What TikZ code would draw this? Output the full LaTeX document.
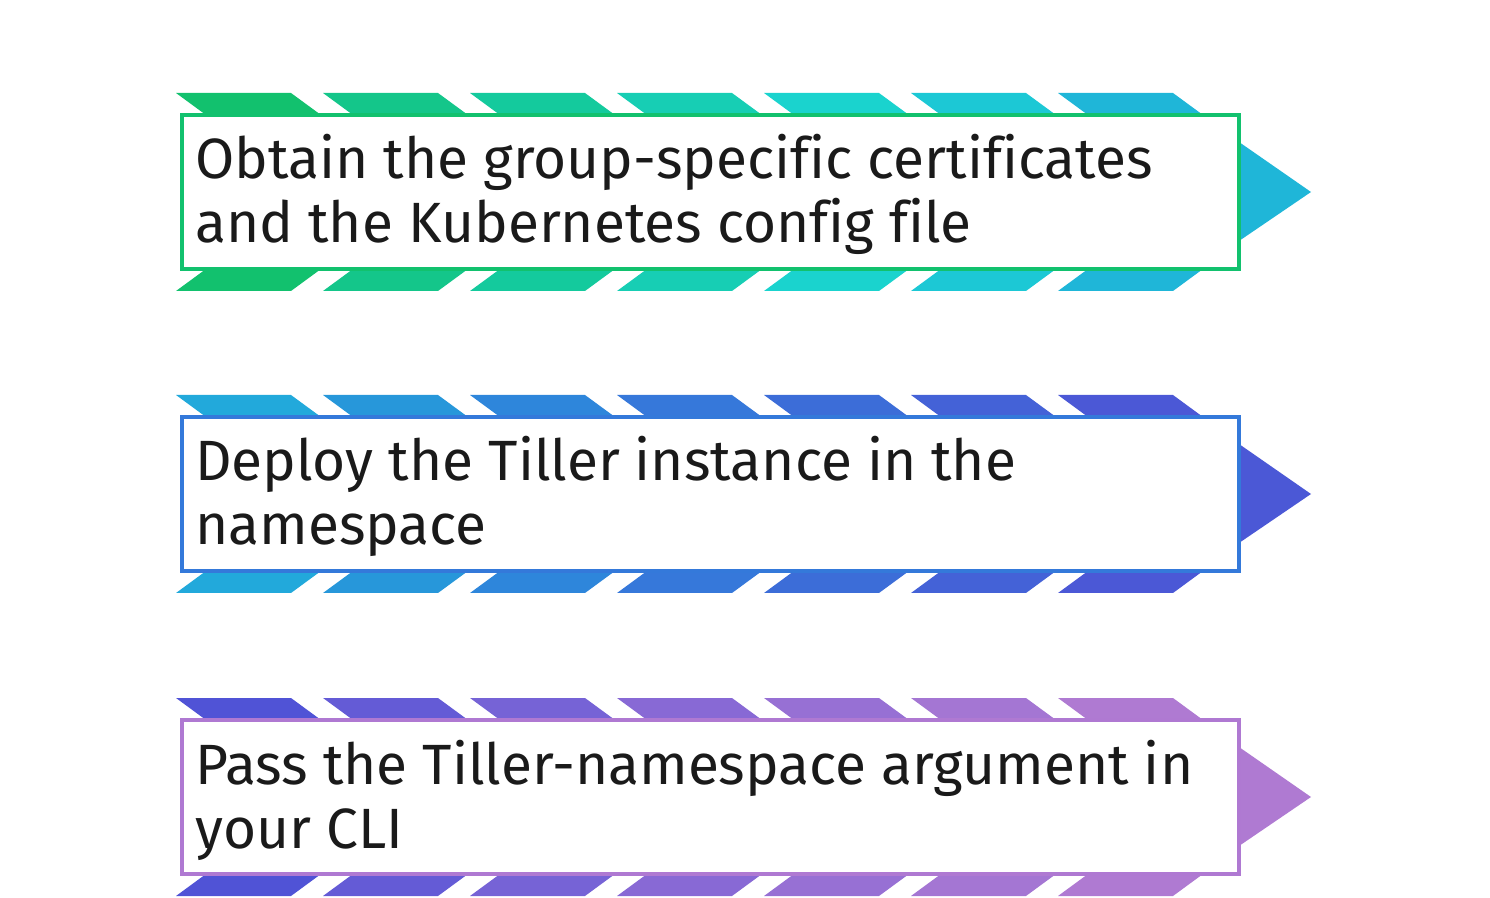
\documentclass[tikz,border=0pt]{standalone}
\usepackage{fontspec}
\setmainfont{Fira Sans}[Ligatures=NoCommon]
\usetikzlibrary{positioning}

% stripe colours, row A (green to cyan)
\definecolor{stripeA1}{HTML}{12C16E}
\definecolor{stripeA2}{HTML}{14C68A}
\definecolor{stripeA3}{HTML}{14CA9D}
\definecolor{stripeA4}{HTML}{17CEB4}
\definecolor{stripeA5}{HTML}{1AD3CE}
\definecolor{stripeA6}{HTML}{1CC8D5}
\definecolor{stripeA7}{HTML}{1FB6D8}
% row B (cyan to blue)
\definecolor{stripeB1}{HTML}{22A9DB}
\definecolor{stripeB2}{HTML}{2797DA}
\definecolor{stripeB3}{HTML}{2E86DB}
\definecolor{stripeB4}{HTML}{3678DA}
\definecolor{stripeB5}{HTML}{3C6DD8}
\definecolor{stripeB6}{HTML}{4462D7}
\definecolor{stripeB7}{HTML}{4B58D6}
% row C (blue to violet)
\definecolor{stripeC1}{HTML}{5053D6}
\definecolor{stripeC2}{HTML}{645BD6}
\definecolor{stripeC3}{HTML}{7663D6}
\definecolor{stripeC4}{HTML}{8869D5}
\definecolor{stripeC5}{HTML}{9770D4}
\definecolor{stripeC6}{HTML}{A476D3}
\definecolor{stripeC7}{HTML}{AF7AD2}
% box borders and text
\definecolor{borderA}{HTML}{12C16E}
\definecolor{borderB}{HTML}{3479DA}
\definecolor{borderC}{HTML}{AF79D2}
\definecolor{txtgray}{HTML}{1A1A1A}

\tikzset{
  stripe/.style={fill=#1, draw=none},
  stepbox/.style={draw=#1, line width=3pt, fill=white, rectangle, anchor=north west,
    inner sep=0pt, outer sep=0pt, minimum width=792.75pt, minimum height=115.5pt},
  steptext/.style={text=txtgray, font=\fontsize{42.6}{48}\selectfont, align=left,
    anchor=base west, inner sep=0pt},
}

\begin{document}
\begin{tikzpicture}[x=0.75pt,y=0.75pt,yscale=-1,xscale=1]
\useasboundingbox (0,0) rectangle (1490,898);

\foreach \y/\p/\txt in {93/A/{Obtain the group-specific certificates\\and the Kubernetes config file},
                        395/B/{Deploy the Tiller instance in the\\namespace},
                        698/C/{Pass the Tiller-namespace argument in\\your CLI}}{
  %Shape: stripes above and below the box
  \foreach \i in {1,...,7}{
    \pgfmathsetmacro{\x}{176+147*(\i-1)}
    \fill[stripe=stripe\p\i] (\x,\y) -- ++(115,0) -- ++(30,22) -- ++(-115,0) -- cycle;
    \fill[stripe=stripe\p\i] (\x,\y+198) -- ++(115,0) -- ++(30,-22) -- ++(-115,0) -- cycle;
  }
  %Shape: arrow tip
  \fill[stripe=stripe\p7] (1239,\y+49) -- (1311,\y+99) -- (1239,\y+148) -- cycle;
  %Shape: box with text (base = last line)
  \node[stepbox=border\p] (box\p) at (182.3,\y+21.7) {};
  \node[steptext] (txt\p) at (195,\y+150) {\txt};
}

\end{tikzpicture}
\end{document}
